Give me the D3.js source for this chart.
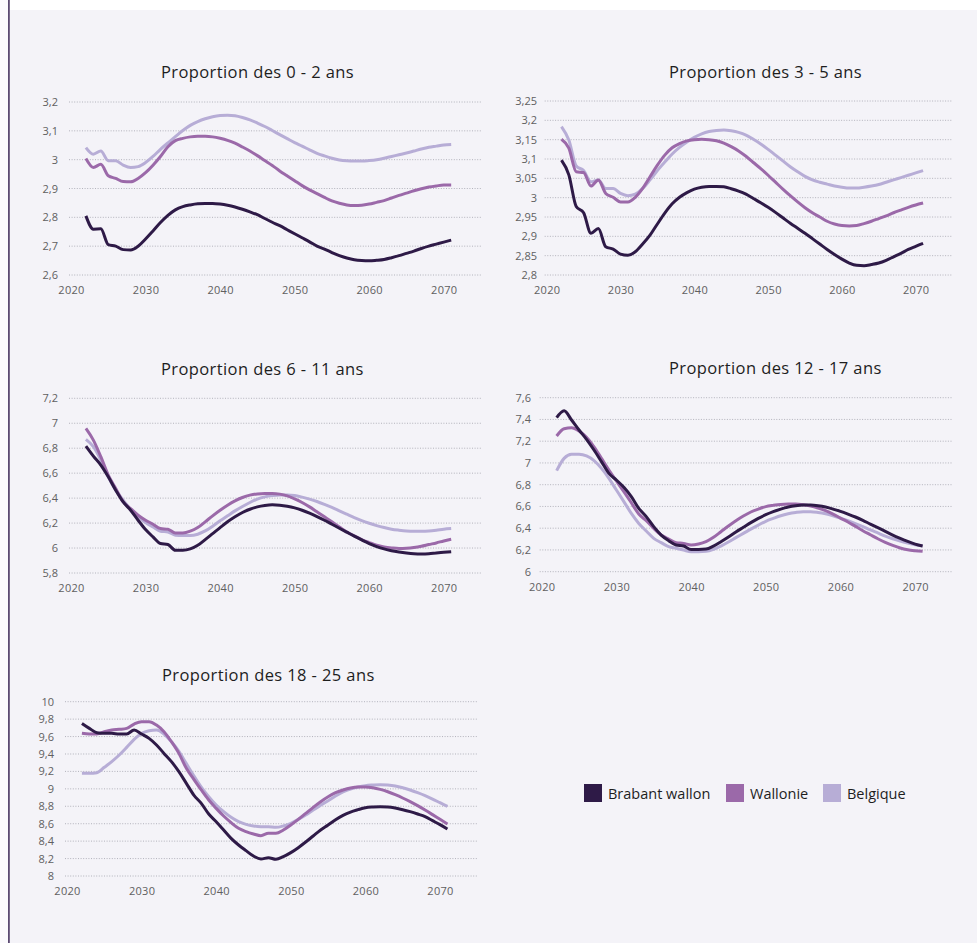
<!DOCTYPE html>
<html>
<head>
<meta charset="utf-8">
<script src="https://cdn.jsdelivr.net/npm/d3@7/dist/d3.min.js"></script>
<style>
  html, body { margin: 0; padding: 0; background: #f4f3f8; }
  svg { display: block; font-family: "Open Sans", "Noto Sans", sans-serif; }
</style>
</head>
<body>
<div id="chart"></div>
<script>
// --- data ---
const years = [2022,2023,2024,2025,2026,2027,2028,2029,2030,2031,
  2032,2033,2034,2035,2036,2037,2038,2039,2040,2041,
  2042,2043,2044,2045,2046,2047,2048,2049,2050,2051,
  2052,2053,2054,2055,2056,2057,2058,2059,2060,2061,
  2062,2063,2064,2065,2066,2067,2068,2069,2070,2071]
const xTicks = [2020, 2030, 2040, 2050, 2060, 2070]
const seriesNames = ['Brabant wallon', 'Wallonie', 'Belgique']
const seriesColors = ['#2e1a47', '#9b69a9', '#b7add6']

// 0 - 2 ans
const bw0_2 = [2.805,2.759,2.76,2.705,2.70,2.688,2.687,2.70,2.725,2.753,
  2.782,2.807,2.826,2.837,2.843,2.847,2.848,2.848,2.846,2.842,
  2.836,2.828,2.819,2.809,2.796,2.783,2.771,2.757,2.743,2.729,
  2.715,2.70,2.69,2.678,2.667,2.659,2.653,2.65,2.649,2.651,
  2.654,2.66,2.667,2.675,2.683,2.692,2.70,2.707,2.714,2.721]
const wal0_2 = [3.004,2.973,2.984,2.944,2.935,2.924,2.923,2.935,2.955,2.981,
  3.011,3.045,3.066,3.074,3.079,3.081,3.081,3.079,3.074,3.067,
  3.057,3.044,3.030,3.014,2.997,2.980,2.961,2.944,2.927,2.910,
  2.895,2.882,2.869,2.857,2.849,2.843,2.841,2.842,2.846,2.852,
  2.858,2.867,2.876,2.884,2.892,2.899,2.905,2.909,2.912,2.912]
const bel0_2 = [3.042,3.019,3.03,2.996,2.996,2.981,2.973,2.976,2.99,3.011,
  3.036,3.058,3.08,3.101,3.119,3.132,3.142,3.149,3.153,3.154,
  3.152,3.146,3.138,3.127,3.115,3.101,3.087,3.073,3.059,3.047,
  3.034,3.022,3.013,3.005,2.999,2.996,2.995,2.995,2.997,3.0,
  3.005,3.011,3.017,3.023,3.030,3.037,3.043,3.047,3.051,3.053]
const yTicks0_2 = [2.6, 2.7, 2.8, 2.9, 3, 3.1, 3.2]

// 3 - 5 ans
const bw3_5 = [3.097,3.059,2.977,2.961,2.908,2.92,2.873,2.867,2.854,2.851,
  2.86,2.88,2.903,2.932,2.96,2.984,3.001,3.013,3.022,3.027,
  3.029,3.029,3.028,3.023,3.017,3.009,2.998,2.987,2.975,2.962,
  2.948,2.934,2.921,2.908,2.894,2.88,2.866,2.853,2.841,2.831,
  2.825,2.824,2.827,2.831,2.838,2.847,2.856,2.866,2.874,2.882]
const wal3_5 = [3.151,3.128,3.067,3.065,3.03,3.046,3.011,3.001,2.989,2.989,
  3.001,3.024,3.054,3.084,3.11,3.129,3.14,3.147,3.15,3.151,
  3.15,3.147,3.141,3.132,3.121,3.107,3.091,3.075,3.058,3.04,
  3.022,3.005,2.989,2.974,2.961,2.95,2.939,2.932,2.928,2.927,
  2.928,2.933,2.939,2.946,2.953,2.961,2.968,2.975,2.981,2.986]
const bel3_5 = [3.184,3.149,3.082,3.07,3.041,3.046,3.024,3.024,3.011,3.005,
  3.009,3.024,3.046,3.07,3.092,3.113,3.13,3.144,3.156,3.165,
  3.171,3.174,3.175,3.173,3.169,3.162,3.151,3.139,3.125,3.11,
  3.095,3.08,3.067,3.055,3.046,3.04,3.035,3.03,3.027,3.025,
  3.025,3.027,3.03,3.034,3.04,3.046,3.052,3.058,3.064,3.07]
const yTicks3_5 = [2.8, 2.85, 2.9, 2.95, 3, 3.05, 3.1, 3.15, 3.2, 3.25]

// 6 - 11 ans
const bw6_11 = [6.817,6.737,6.665,6.571,6.464,6.37,6.303,6.223,6.148,6.089,
  6.036,6.028,5.982,5.982,5.993,6.022,6.068,6.116,6.164,6.21,
  6.25,6.285,6.311,6.33,6.341,6.346,6.343,6.335,6.322,6.303,
  6.279,6.252,6.223,6.191,6.159,6.127,6.095,6.065,6.036,6.012,
  5.993,5.979,5.969,5.961,5.955,5.953,5.955,5.961,5.966,5.971]
const wal6_11 = [6.959,6.865,6.732,6.584,6.477,6.37,6.316,6.263,6.223,6.191,
  6.156,6.151,6.121,6.121,6.135,6.164,6.21,6.258,6.303,6.343,
  6.378,6.405,6.424,6.434,6.437,6.437,6.432,6.418,6.394,6.365,
  6.33,6.29,6.25,6.21,6.169,6.129,6.097,6.068,6.044,6.022,
  6.009,6.001,5.996,5.998,6.004,6.014,6.028,6.041,6.057,6.07]
const bel6_11 = [6.871,6.812,6.705,6.571,6.464,6.384,6.309,6.25,6.204,6.169,
  6.135,6.129,6.103,6.1,6.1,6.111,6.137,6.175,6.218,6.258,
  6.298,6.333,6.365,6.392,6.41,6.421,6.426,6.426,6.421,6.408,
  6.392,6.373,6.35,6.325,6.298,6.271,6.244,6.22,6.199,6.18,
  6.164,6.151,6.143,6.137,6.135,6.135,6.137,6.143,6.151,6.156]
const yTicks6_11 = [5.8, 6, 6.2, 6.4, 6.6, 6.8, 7, 7.2]

// 12 - 17 ans
const bw12_17 = [7.416,7.48,7.395,7.303,7.217,7.119,7.012,6.904,6.843,6.776,
  6.69,6.582,6.506,6.414,6.337,6.285,6.245,6.236,6.205,6.205,
  6.208,6.236,6.276,6.319,6.365,6.408,6.451,6.49,6.524,6.552,
  6.576,6.595,6.607,6.613,6.613,6.607,6.595,6.576,6.555,6.53,
  6.503,6.472,6.438,6.405,6.371,6.337,6.307,6.279,6.254,6.236]
const wal12_17 = [7.248,7.315,7.324,7.293,7.235,7.149,7.042,6.935,6.834,6.736,
  6.634,6.53,6.469,6.398,6.337,6.3,6.267,6.26,6.245,6.254,
  6.276,6.316,6.368,6.42,6.469,6.512,6.549,6.576,6.598,6.61,
  6.619,6.622,6.622,6.616,6.604,6.585,6.561,6.53,6.493,6.457,
  6.417,6.377,6.34,6.303,6.27,6.242,6.218,6.202,6.193,6.187]
const bel12_17 = [6.929,7.042,7.079,7.079,7.064,7.021,6.95,6.858,6.751,6.644,
  6.536,6.444,6.374,6.307,6.267,6.23,6.215,6.199,6.184,6.184,
  6.187,6.205,6.236,6.273,6.313,6.352,6.392,6.429,6.463,6.49,
  6.515,6.533,6.545,6.552,6.552,6.545,6.533,6.515,6.493,6.469,
  6.441,6.414,6.384,6.356,6.328,6.303,6.282,6.264,6.248,6.236]
const yTicks12_17 = [6, 6.2, 6.4, 6.6, 6.8, 7, 7.2, 7.4, 7.6]

// 18 - 25 ans
const bw18_25 = [9.751,9.694,9.644,9.637,9.637,9.629,9.629,9.675,9.629,9.579,
  9.503,9.407,9.312,9.197,9.063,8.929,8.834,8.711,8.623,8.528,
  8.432,8.356,8.291,8.229,8.195,8.21,8.191,8.222,8.268,8.325,
  8.39,8.459,8.528,8.585,8.646,8.696,8.734,8.761,8.784,8.792,
  8.795,8.792,8.78,8.761,8.738,8.711,8.681,8.635,8.589,8.539]
const wal18_25 = [9.637,9.629,9.629,9.656,9.675,9.683,9.694,9.744,9.771,9.771,
  9.732,9.656,9.541,9.407,9.235,9.109,8.987,8.872,8.776,8.688,
  8.612,8.547,8.509,8.482,8.463,8.49,8.49,8.528,8.585,8.65,
  8.719,8.788,8.853,8.91,8.956,8.987,9.01,9.021,9.021,9.013,
  8.994,8.967,8.933,8.895,8.853,8.807,8.757,8.704,8.65,8.597]
const bel18_25 = [9.178,9.178,9.185,9.247,9.312,9.388,9.476,9.568,9.637,9.667,
  9.675,9.629,9.54,9.43,9.29,9.15,9.02,8.91,8.815,8.738,
  8.673,8.623,8.593,8.574,8.566,8.566,8.558,8.574,8.604,8.65,
  8.7,8.757,8.811,8.864,8.918,8.964,8.998,9.021,9.037,9.044,
  9.048,9.044,9.033,9.013,8.987,8.956,8.922,8.883,8.841,8.799]
const yTicks18_25 = [8, 8.2, 8.4, 8.6, 8.8, 9, 9.2, 9.4, 9.6, 9.8, 10]

// --- layout ---
const width = 977, height = 943

const panels = [
  { title: 'Proportion des 0 - 2 ans', series: [bw0_2, wal0_2, bel0_2], yTicks: yTicks0_2,
    x0: 71, x1: 481, yb: 275, yt: 102, tx: 161, ty: 78, lx: 58, xly: 295 },
  { title: 'Proportion des 3 - 5 ans', series: [bw3_5, wal3_5, bel3_5], yTicks: yTicks3_5,
    x0: 546.7, x1: 952.6, yb: 275, yt: 101, tx: 669, ty: 78, lx: 537, xly: 295 },
  { title: 'Proportion des 6 - 11 ans', series: [bw6_11, wal6_11, bel6_11], yTicks: yTicks6_11,
    x0: 71, x1: 481, yb: 573, yt: 398.3, tx: 161, ty: 375, lx: 58, xly: 593 },
  { title: 'Proportion des 12 - 17 ans', series: [bw12_17, wal12_17, bel12_17], yTicks: yTicks12_17,
    x0: 541.7, x1: 952.5, yb: 571.7, yt: 397.7, tx: 669, ty: 374, lx: 531, xly: 592 },
  { title: 'Proportion des 18 - 25 ans', series: [bw18_25, wal18_25, bel18_25], yTicks: yTicks18_25,
    x0: 67, x1: 477.3, yb: 876, yt: 701.7, tx: 162, ty: 681, lx: 54, xly: 896 }
]

const fmt = v => String(v).replace('.', ',')

const svg = d3.select('#chart').append('svg')
  .attr('width', width)
  .attr('height', height)

// page frame
svg.append('rect').attr('width', width).attr('height', height).attr('fill', '#f4f3f8')
svg.append('rect').attr('width', width).attr('height', 10).attr('fill', '#ffffff')
svg.append('rect').attr('width', 8).attr('height', height).attr('fill', '#fbfafd')
svg.append('rect').attr('x', 8).attr('width', 1.8).attr('height', height).attr('fill', '#5b4a72')

panels.forEach(p => {
  const x = d3.scaleLinear().domain([2020, 2075]).range([p.x0, p.x1])
  const y = d3.scaleLinear().domain(d3.extent(p.yTicks)).range([p.yb, p.yt])
  const g = svg.append('g')

  // title
  g.append('text')
    .attr('x', p.tx).attr('y', p.ty)
    .attr('font-size', 16.5).attr('letter-spacing', 0.4).attr('fill', '#1e1e1e')
    .text(p.title)

  // gridlines
  g.selectAll('.grid')
    .data(p.yTicks)
    .enter().append('line')
    .attr('x1', p.x0 - 2).attr('x2', p.x1)
    .attr('y1', d => y(d)).attr('y2', d => y(d))
    .attr('stroke', '#a2a2ac').attr('stroke-width', 0.8)
    .attr('stroke-dasharray', '1,1.6')

  // y axis labels
  const yAxis = d3.axisLeft(y).tickValues(p.yTicks).tickFormat(fmt).tickSize(0).tickPadding(0)
  const ya = g.append('g').attr('transform', `translate(${p.lx},0)`).call(yAxis)
  ya.select('.domain').remove()
  ya.selectAll('text').attr('font-size', 11).attr('fill', '#606060')
    .attr('font-family', '"Open Sans", sans-serif')

  // x axis labels
  const xAxis = d3.axisBottom(x).tickValues(xTicks).tickFormat(d => d).tickSize(0).tickPadding(0)
  const xa = g.append('g').attr('transform', `translate(0,${p.xly - 9})`).call(xAxis)
  xa.select('.domain').remove()
  xa.selectAll('text').attr('font-size', 11).attr('fill', '#606060')
    .attr('letter-spacing', 0.3)
    .attr('font-family', '"Open Sans", sans-serif')

  // lines (light series drawn first, dark on top)
  const line = d3.line()
    .x((d, i) => x(years[i]))
    .y(d => y(d))
    .curve(d3.curveMonotoneX)
  p.series.slice().reverse().forEach((s, k) => {
    const idx = p.series.length - 1 - k
    g.append('path')
      .datum(s)
      .attr('d', line)
      .attr('fill', 'none')
      .attr('stroke', seriesColors[idx])
      .attr('stroke-width', 3)
      .attr('stroke-linejoin', 'round')
  })
})

// legend
const legendX = [584, 726, 823]
const legend = svg.append('g')
seriesNames.forEach((name, i) => {
  legend.append('rect')
    .attr('x', legendX[i]).attr('y', 784)
    .attr('width', 18).attr('height', 18)
    .attr('fill', seriesColors[i])
  legend.append('text')
    .attr('x', legendX[i] + 24).attr('y', 799)
    .attr('font-size', 14.5).attr('fill', '#1e1e1e')
    .text(name)
})
</script>
</body>
</html>
